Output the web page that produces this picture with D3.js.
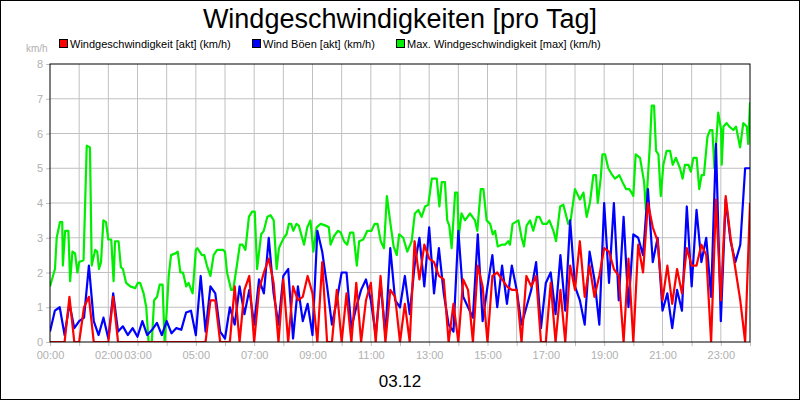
<!DOCTYPE html>
<html><head><meta charset="utf-8">
<script src="https://cdn.jsdelivr.net/npm/d3@7"></script>
<style>body{margin:0;background:#fff}svg{display:block;font-family:"Liberation Sans",Arial,sans-serif}</style>
</head><body><svg id="c" width="800" height="400"></svg>
<script>
const title = "Windgeschwindigkeiten [pro Tag]";
const dateLabel = "03.12";
const unitLabel = "km/h";
const seriesNames = ["Windgeschwindigkeit [akt] (km/h)", "Wind Böen [akt] (km/h)", "Max. Windgeschwindigkeit [max] (km/h)"];
const seriesColors = ["#ff0000", "#0000ff", "#00ee00"];
const xTickHours = [0,2,3,5,7,9,11,13,15,17,19,21,23];
const yTicks = [0,1,2,3,4,5,6,7,8];
// red & blue: 10-minute steps from 00:00 to 24:00
const windAkt = [
0,0,0,0,1.3,0, 0,1.0,1.3,0,0,0, 0,1.3,0,0,0,0, 0,0,0,0,0,0, 0,0,0,0,0,0,
0,0,0,1.2,1.2,0, 0,0,1.6,0,1.5,1.9, 0,1.5,2.0,2.4,1.7,0, 1.8,0,1.6,1.2,1.3,1.9,
1.4,0,2.3,0,0,1.5, 0,1.4,0,1.7,0,1.2, 1.7,0,1.9,0,1.5,1.3, 0,1.1,0,2.9,1.8,2.8,
2.4,2.3,1.9,1.8,0,1.1, 0,1.8,1.5,0,2.2,1.6, 0,1.9,2.0,1.8,1.6,1.5, 1.5,0,1.9,1.6,1.9,0,
0,1.7,0,1.5,0,2.2, 1.5,2.9,1.3,2.2,1.3,1.9, 2.7,2.6,2.1,1.9,0,2.4, 0,2.8,2.0,4.0,3.3,2.9,
1.2,2.2,1.1,2.1,1.4,2.7, 2.2,2.2,2.8,2.5,0,4.1, 1.2,4.2,3.0,2.1,1.2,0, 4.0];
const windBoeen = [
.3,.9,1.0,.2,1.1,.4, .6,.7,2.2,.6,.2,.7, .1,1.4,.3,.45,.2,.4, .15,.6,.2,.35,.55,.2, .6,.25,.4,.35,.85,.9,
.2,1.9,.3,1.6,1.4,.3, .1,1.0,.5,1.6,.8,1.5, .5,1.8,1.4,3.0,1.4,.5, 1.9,2.1,.1,1.6,.6,1.1,
.2,3.2,2.6,1.6,.5,1.2, 2.0,2.0,.4,1.0,1.5,1.8, 1.2,.2,1.7,.2,2.7,1.2, 1.0,1.9,.8,2.2,3.0,1.6,
3.3,1.4,2.7,1.4,.5,.3, 3.2,1.3,1.0,.7,3.1,.6, 1.6,2.5,1.0,2.2,1.1,2.2, 1.5,.5,1.0,1.5,2.3,.4,
1.7,2.0,.8,2.5,.9,3.5, 1.6,1.2,.5,2.6,1.8,.5, 4.0,1.7,4.0,1.2,3.6,1.0, 3.1,3.0,2.5,4.4,2.3,3.0,
.9,1.4,.4,1.5,.9,3.9, 1.6,3.8,2.3,3.0,1.3,5.7, .6,4.1,2.9,2.3,2.8,5.0, 5.0];
// green: [hour, value]
const windMax = [
[0,1.6],[.17,2.1],[.23,3.0],[.34,3.45],[.42,3.45],[.44,2.2],[.52,3.2],[.63,3.2],[.69,1.75],[.77,2.6],[.86,2.55],[.94,2.0],[1.0,2.3],
[1.15,2.35],[1.26,5.65],[1.37,5.6],[1.43,2.2],[1.55,2.65],[1.62,2.6],[1.68,2.1],[1.75,2.3],[1.83,3.5],[1.92,3.45],[2.0,2.95],
[2.1,2.95],[2.18,1.75],[2.23,2.9],[2.35,2.9],[2.43,2.15],[2.5,2.1],[2.61,1.7],[2.75,1.6],[2.92,1.55],[3.01,1.7],
[3.09,1.7],[3.21,1.4],[3.3,1.0],[3.38,0],[3.49,0],[3.57,1.2],[3.67,1.3],[3.76,1.65],[3.86,1.65],[3.93,0],[4.01,1.0],
[4.07,1.9],[4.15,2.5],[4.3,2.55],[4.38,2.6],[4.47,2.0],[4.56,2.0],[4.67,1.6],[4.75,1.7],[4.89,1.4],[5.0,2.65],
[5.05,2.7],[5.21,2.5],[5.29,2.5],[5.38,2.2],[5.5,1.9],[5.61,2.5],[5.73,2.65],[5.93,2.65],[6.0,2.6],
[6.07,2.0],[6.21,1.5],[6.28,1.5],[6.39,2.1],[6.51,2.8],[6.6,2.8],[6.7,2.65],[6.82,3.6],[6.93,3.75],[7.02,3.75],
[7.1,2.1],[7.24,3.1],[7.33,3.2],[7.45,3.6],[7.56,3.65],[7.67,3.5],[7.77,2.1],[7.85,2.7],[7.93,2.85],[8.02,3.0],
[8.11,3.1],[8.19,3.4],[8.27,3.4],[8.34,3.2],[8.45,3.4],[8.53,3.35],[8.71,2.8],[8.82,3.3],[8.93,3.5],[9.03,2.6],
[9.14,3.3],[9.28,3.4],[9.45,3.35],[9.56,3.3],[9.62,2.8],[9.74,3.05],[9.87,3.2],[9.97,3.15],[10.08,2.9],
[10.19,2.8],[10.29,3.15],[10.4,3.15],[10.52,2.2],[10.6,2.9],[10.74,2.95],[10.88,3.2],[11.02,3.2],[11.13,3.4],
[11.23,3.4],[11.34,2.9],[11.45,2.7],[11.55,4.2],[11.69,3.3],[11.78,2.75],[11.89,2.5],[11.97,3.1],
[12.11,3.0],[12.25,2.6],[12.4,2.9],[12.51,3.7],[12.63,3.8],[12.74,3.6],[12.86,3.9],[12.97,3.95],
[13.09,4.7],[13.26,4.7],[13.35,3.9],[13.43,4.6],[13.54,4.6],[13.62,3.5],[13.69,3.35],[13.77,2.7],[13.89,4.3],[13.97,4.3],
[14.01,3.0],[14.11,3.7],[14.23,3.5],[14.4,3.7],[14.57,3.5],[14.65,3.2],[14.77,4.4],[14.86,4.4],[14.97,3.5],[15.09,3.4],
[15.18,3.1],[15.26,3.2],[15.35,2.75],[15.49,2.8],[15.6,2.8],[15.71,2.9],[15.77,2.8],[15.86,3.4],[16.06,3.5],[16.17,3.0],[16.25,2.75],
[16.34,3.35],[16.46,3.5],[16.57,3.2],[16.69,3.6],[16.78,3.6],[16.89,3.4],[17.03,3.4],
[17.12,3.5],[17.26,3.2],[17.35,2.9],[17.49,3.9],[17.6,3.95],[17.77,3.4],[17.85,3.5],[18.0,4.4],
[18.17,4.1],[18.29,4.3],[18.4,3.6],[18.51,4.0],[18.63,4.8],[18.72,4.8],[18.78,4.0],[18.88,4.7],[18.94,5.4],[19.03,5.4],[19.14,5.0],[19.28,4.8],
[19.37,4.7],[19.52,4.8],[19.63,4.6],[19.75,4.4],[19.86,4.4],[19.94,4.3],[20.0,4.2],
[20.08,5.4],[20.23,5.3],[20.37,4.6],[20.43,3.8],[20.57,5.7],[20.63,6.8],[20.71,6.8],[20.78,5.5],[20.86,5.4],[20.94,4.2],[21.03,5.1],
[21.14,5.5],[21.26,5.5],[21.35,5.1],[21.46,5.3],[21.6,5.0],[21.69,4.7],[21.77,5.1],[21.89,5.1],[21.97,4.9],[22.06,5.3],
[22.17,5.3],[22.26,4.4],[22.34,4.8],[22.42,4.8],[22.54,5.9],[22.63,6.1],[22.71,6.1],[22.78,5.0],[22.91,6.6],[23.01,6.1],[23.03,5.1],
[23.09,6.2],[23.2,6.3],[23.29,6.2],[23.43,6.1],[23.52,6.2],[23.66,5.6],[23.77,6.3],[23.89,6.2],[23.94,5.7],[24,6.9]];

const svg = d3.select("#c");
const L=50,R=750,T=64,B=342;
const x = d3.scaleLinear().domain([0,24]).range([L,R]);
const y = d3.scaleLinear().domain([0,8]).range([B,T]);
svg.append("rect").attr("x",0.5).attr("y",0.5).attr("width",799).attr("height",399).attr("fill","#fff").attr("stroke","#000");
// grid
const g = svg.append("g");
g.selectAll(".vg").data(d3.range(1,24)).join("line").attr("x1",d=>x(d)).attr("x2",d=>x(d)).attr("y1",T).attr("y2",B).attr("stroke","#c0c0c0");
g.selectAll(".hg").data(yTicks.slice(1,-1)).join("line").attr("x1",L).attr("x2",R).attr("y1",d=>y(d)).attr("y2",d=>y(d)).attr("stroke","#c0c0c0");
// axes
const xa = svg.append("g").attr("transform",`translate(0,${B})`).call(d3.axisBottom(x).tickValues(d3.range(0,25)).tickSize(4).tickFormat(d=>xTickHours.includes(d)?String(d).padStart(2,"0")+":00":""));
xa.select(".domain").remove();
xa.selectAll("line").attr("stroke","#c0c0c0");
xa.selectAll("text").attr("fill","#b0b0b0").attr("font-size",11).attr("font-family","Liberation Sans, Arial").attr("dy","0.9em");
const ya = svg.append("g").attr("transform",`translate(${L},0)`).call(d3.axisLeft(y).tickValues(yTicks).tickSize(4).tickFormat(d3.format("d")));
ya.select(".domain").remove();
ya.selectAll("line").attr("stroke","#c0c0c0");
ya.selectAll("text").attr("fill","#b0b0b0").attr("font-size",11).attr("font-family","Liberation Sans, Arial");
// lines
const clip = svg.append("clipPath").attr("id","cp").append("rect").attr("x",L).attr("y",T).attr("width",R-L).attr("height",B-T);
const line = d3.line().x(d=>x(d[0])).y(d=>y(d[1]));
const step = a => a.map((v,i)=>[i/6,v]);
const lg = svg.append("g").attr("clip-path","url(#cp)");
[[windMax,2],[step(windBoeen),1],[step(windAkt),0]].forEach(([d,i])=>{
  lg.append("path").attr("d",line(d)).attr("fill","none").attr("stroke",seriesColors[i]).attr("stroke-width",2.2).attr("stroke-linejoin","round");
});
svg.append("rect").attr("x",L).attr("y",T).attr("width",R-L).attr("height",B-T).attr("fill","none").attr("stroke","#000");
// texts
svg.append("text").attr("x",400).attr("y",28).attr("text-anchor","middle").attr("font-size",27).text(title);
svg.append("text").attr("x",400).attr("y",387).attr("text-anchor","middle").attr("font-size",17).text(dateLabel);
svg.append("text").attr("x",26).attr("y",52).attr("fill","#b0b0b0").attr("font-size",10).text(unitLabel);
const legX=[59,252,396];
seriesNames.forEach((n,i)=>{
  svg.append("rect").attr("x",legX[i]+0.5).attr("y",39.5).attr("width",8).attr("height",8).attr("fill",seriesColors[i]).attr("stroke","#000");
  svg.append("text").attr("x",legX[i]+11).attr("y",48).attr("font-size",11).text(n);
});
</script></body></html>
